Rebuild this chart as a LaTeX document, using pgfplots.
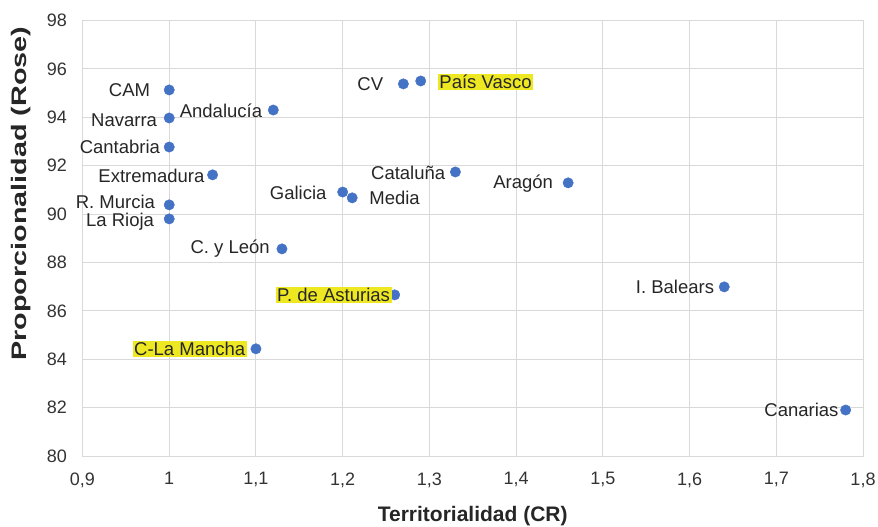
\documentclass[border=0pt]{standalone}
\usepackage{fontspec}
\setmainfont{Liberation Sans}
\usepackage{graphicx}
\usepackage{pgfplots}
\pgfplotsset{compat=1.18}
\definecolor{mk}{HTML}{4472C4}
\definecolor{gridc}{HTML}{D9D9D9}
\definecolor{txt}{HTML}{262626}
\definecolor{tck}{HTML}{333333}
\definecolor{hl}{HTML}{EEE823}
\newcommand{\lbfont}{\fontsize{18.5}{21}\selectfont}
\begin{document}
\begin{tikzpicture}
\begin{axis}[
  name=ax,
  scale only axis, width=780.5pt, height=435.5pt,
  xmin=0.9, xmax=1.8, ymin=80, ymax=98,
  xtick={0.9,1,1.1,1.2,1.3,1.4,1.5,1.6,1.7,1.8},
  ytick={80,82,84,86,88,90,92,94,96,98},
  grid=major, major grid style={draw=gridc, line width=1pt},
  axis line style={draw=gridc, line width=1pt},
  tick style={draw=none},
  /pgf/number format/.cd, use comma, assume math mode=true, 1000 sep={},
  /pgfplots/.cd,
  ticklabel style={font=\fontsize{18}{21}\selectfont, text=tck},
  xticklabel style={yshift=-13pt},
  yticklabel style={xshift=-12pt},
  xlabel={\textbf{Territorialidad (CR)}},
  ylabel={\scalebox{1.37}[1]{\textbf{Proporcionalidad (Rose)}}},
  xlabel style={font=\fontsize{21}{24}\selectfont, text=txt, at={(axis description cs:0.5,-0.137)}, anchor=center},
  ylabel style={font=\fontsize{21}{24}\selectfont, text=txt, at={(axis description cs:-0.0785,0.602)}, anchor=center},
  clip=false,
]
% left-labelled points
\addplot[only marks, mark=*, mark size=5.2pt, color=mk,
  point meta=explicit symbolic,
  visualization depends on={\thisrow{dx}\as\dx},
  visualization depends on={\thisrow{dy}\as\dy},
  nodes near coords,
  nodes near coords style={anchor=east, xshift=\dx pt, yshift=\dy pt, inner sep=0pt, font=\lbfont, text=txt}]
  table[col sep=comma, meta=label]{
x,y,label,dx,dy
1.00,95.13,CAM,-19,0
1.00,93.97,Navarra,-12,-2
1.00,92.77,Cantabria,-9,0
1.12,94.30,Andalucía,-11,-1
1.05,91.62,Extremadura,-8,-1
1.00,90.38,R. Murcia,-14,2.5
1.00,89.80,La Rioja,-15,-2.5
1.20,90.91,Galicia,-16,-1
1.27,95.38,CV,-20,0
1.33,91.74,Cataluña,-10,-1
1.46,91.29,Aragón,-15,-1
1.13,88.56,C. y León,-12,0
1.64,86.99,I. Balears,-10,0
1.78,81.90,Canarias,-7,0
};
% right-labelled point
\addplot[only marks, mark=*, mark size=5.2pt, color=mk,
  point meta=explicit symbolic,
  nodes near coords,
  nodes near coords style={anchor=west, xshift=17pt, yshift=0pt, inner sep=0pt, font=\lbfont, text=txt}]
  table[col sep=comma, meta=label]{
x,y,label
1.211,90.67,Media
};
% highlighted, left
\addplot[only marks, mark=*, mark size=5.2pt, color=mk,
  point meta=explicit symbolic,
  visualization depends on={\thisrow{dx}\as\dx},
  nodes near coords,
  nodes near coords style={anchor=east, xshift=\dx pt, inner sep=1.5pt, fill=hl, font=\lbfont, text=txt}]
  table[col sep=comma, meta=label]{
x,y,label,dx
1.26,86.66,P. de Asturias,-3
1.10,84.43,C-La Mancha,-9
};
% highlighted, right
\addplot[only marks, mark=*, mark size=5.2pt, color=mk,
  point meta=explicit symbolic,
  nodes near coords,
  nodes near coords style={anchor=west, xshift=17pt, yshift=-1pt, inner sep=1.5pt, fill=hl, font=\lbfont, text=txt}]
  table[col sep=comma, meta=label]{
x,y,label
1.29,95.50,País Vasco
};
\end{axis}
\pgfresetboundingbox
\path ([shift={(-82.5pt,-71pt)}]ax.south west) rectangle ([shift={(15pt,20.5pt)}]ax.north east);
\end{tikzpicture}
\end{document}
